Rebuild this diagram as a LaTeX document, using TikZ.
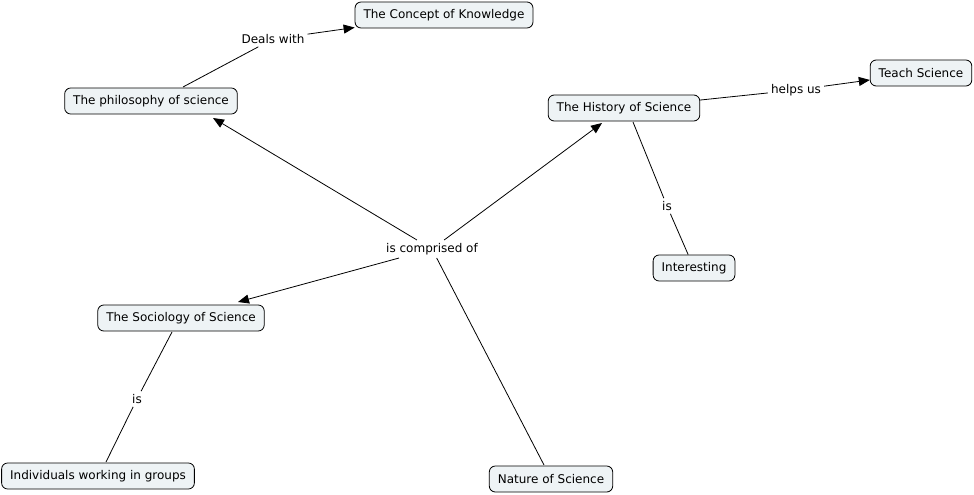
\documentclass[tikz,border=0pt]{standalone}
\usepackage{fontspec}
\setmainfont{DejaVu Sans}
\usetikzlibrary{arrows.meta}
\definecolor{boxfill}{HTML}{EEF3F5}
\tikzset{
  concept/.style={draw=black, line width=0.8pt, fill=boxfill, rounded corners=6pt,
    minimum height=26pt, inner xsep=8.5pt, font=\fontsize{12}{14}\selectfont},
  linklabel/.style={inner sep=3pt, font=\fontsize{12}{14}\selectfont},
  conn/.style={line width=0.8pt},
  arr/.style={conn, -{Triangle[length=11pt,width=9pt]}}
}
\begin{document}
\begin{tikzpicture}[x=1pt,y=-1pt]
\useasboundingbox (0,0) rectangle (974,495);
\node[concept] (know) at (444,15) {The Concept of Knowledge};
\node[concept] (phil) at (151,101) {The philosophy of science};
\node[concept] (hist) at (624,108) {The History of Science};
\node[concept] (teach) at (921,73) {Teach Science};
\node[concept] (inter) at (694,268) {Interesting};
\node[concept] (soc) at (181,318) {The Sociology of Science};
\node[concept] (indiv) at (98,476) {Individuals working in groups};
\node[concept] (nat) at (551,479) {Nature of Science};

\node[linklabel] (deals) at (273,39) {Deals with};
\node[linklabel] (helps) at (796,90) {helps us};
\node[linklabel] (is1) at (667,206) {is};
\node[linklabel] (comp) at (432,249) {is comprised of};
\node[linklabel] (is2) at (137,399) {is};

\coordinate (phA) at (183,87);
\draw[conn] (phA) -- (deals);
\draw[arr] (deals) -- (know);
\draw[conn] (hist) -- (helps);
\draw[arr] (helps) -- (teach);
\coordinate (hiB) at (633,122);
\draw[conn] (hiB) -- (is1);
\draw[conn] (is1) -- (inter);
\coordinate (naT) at (544,465);
\draw[conn] (naT) -- (comp);
\coordinate (phE) at (213,118);
\coordinate (hiE) at (602,123);
\coordinate (soE) at (238,302);
\draw[arr] (comp) -- (phE);
\draw[arr] (comp) -- (hiE);
\draw[arr] (comp) -- (soE);
\coordinate (soB) at (172,332);
\coordinate (inT) at (106,462);
\draw[conn] (soB) -- (is2);
\draw[conn] (is2) -- (inT);
\end{tikzpicture}
\end{document}
